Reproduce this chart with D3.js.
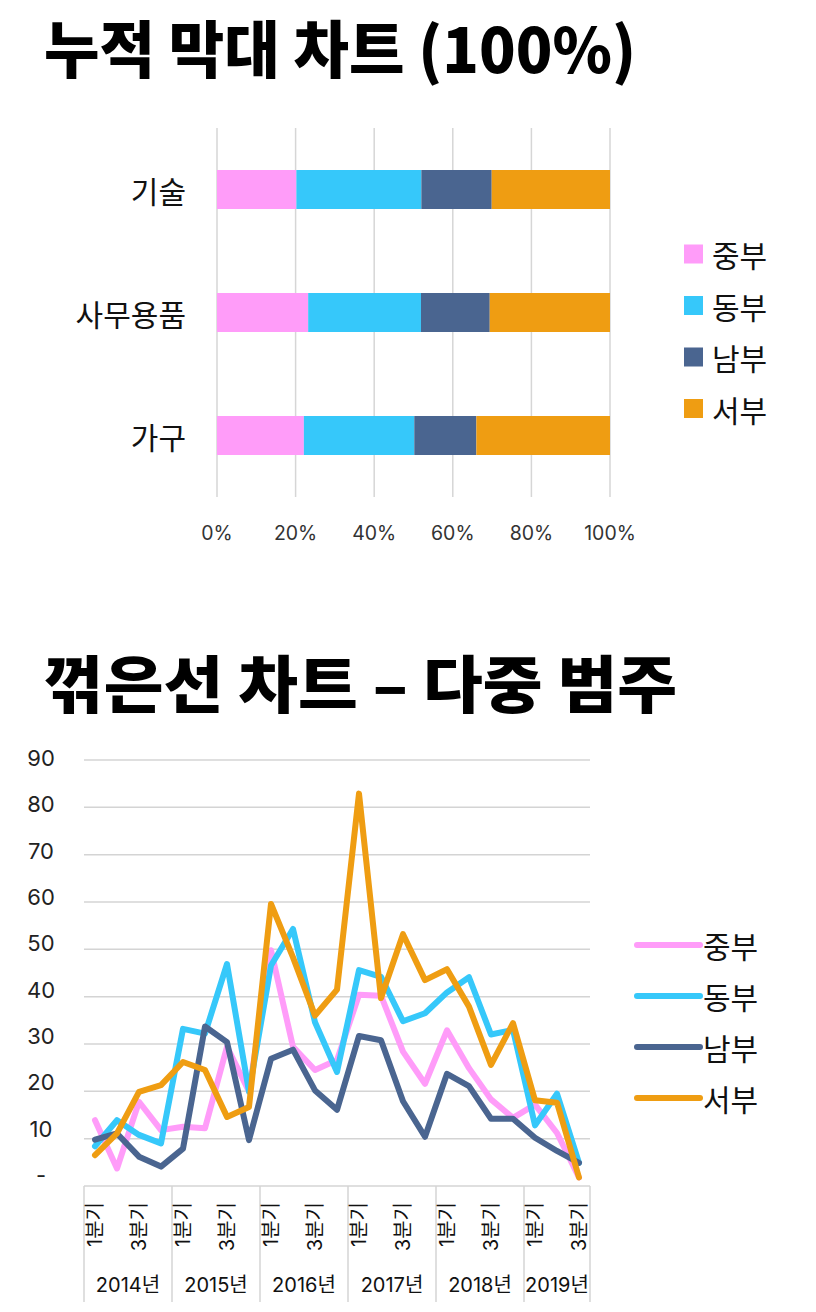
<!DOCTYPE html>
<html><head><meta charset="utf-8">
<script src="https://cdn.jsdelivr.net/npm/d3@7/dist/d3.min.js"></script>
<style>body{margin:0;background:#fff}svg{display:block}</style>
</head><body>
<svg id="c" width="816" height="1312"></svg>
<script>
// ---------- data ----------
const barCategories = ["기술", "사무용품", "가구"];
const regions = ["중부", "동부", "남부", "서부"];
const regionColors = ["#FF9CF9", "#36C8FA", "#4A6590", "#EF9D12"];
const shareCentral = [20.2, 23.2, 22.1];
const shareEast    = [31.8, 28.7, 28.1];
const shareSouth   = [17.9, 17.5, 15.8];
const shareWest    = [30.1, 30.6, 34.0];
const pctTicks = [0, 20, 40, 60, 80, 100];

const years = ["2014년", "2015년", "2016년", "2017년", "2018년", "2019년"];
const quartersPerYear = [4, 4, 4, 4, 4, 3];
const quarterNames = ["1분기", "2분기", "3분기", "4분기"];
const lineCentral = [13.9, 3.7, 17.8, 11.8, 12.5, 12.2, 29.4, 20.0, 49.8, 29.4, 24.5, 26.6, 40.4, 40.2, 28.4, 21.6, 32.9, 24.9, 18.3, 14.4, 17.2, 11.2, 1.8];
const lineEast    = [8.4, 13.9, 10.8, 9.0, 33.2, 32.2, 46.9, 19.9, 46.6, 54.3, 34.6, 24.1, 45.6, 44.2, 34.8, 36.5, 40.9, 44.1, 32.0, 33.0, 12.8, 19.5, 4.9];
const lineSouth   = [9.8, 11.1, 6.2, 4.1, 7.9, 33.7, 30.4, 9.7, 26.9, 28.8, 20.2, 16.1, 31.7, 30.8, 17.9, 10.4, 23.7, 21.1, 14.2, 14.2, 10.2, 7.4, 4.9];
const lineWest    = [6.5, 11.1, 19.9, 21.3, 26.2, 24.5, 14.6, 16.7, 59.6, 48.3, 36.0, 41.5, 82.9, 39.7, 53.2, 43.5, 45.8, 37.9, 25.6, 34.4, 18.1, 17.6, 1.8];
const yTicks = [0, 10, 20, 30, 40, 50, 60, 70, 80, 90];
const yTickLabels = ["-", "10", "20", "30", "40", "50", "60", "70", "80", "90"];

// ---------- setup ----------
const FONT = "'Noto Sans CJK KR', 'Noto Sans', sans-serif";
const NUMFONT = "Inter, 'Noto Sans CJK KR', sans-serif";
const svg = d3.select("#c").style("font-family", FONT);
const color = d3.scaleOrdinal().domain(regions).range(regionColors);

// ---------- titles ----------
svg.append("text").attr("x", 44).attr("y", 73)
  .attr("font-size", 62).attr("font-weight", 900).attr("fill", "#000")
  .attr("textLength", 592).attr("lengthAdjust", "spacingAndGlyphs")
  .text("누적 막대 차트 (100%)");
svg.append("text").attr("x", 44).attr("y", 708)
  .attr("font-size", 62).attr("font-weight", 900).attr("fill", "#000")
  .attr("textLength", 633).attr("lengthAdjust", "spacingAndGlyphs")
  .text("꺾은선 차트 – 다중 범주");

// ---------- stacked 100% bar chart ----------
const barTable = barCategories.map((c, i) => ({
  cat: c, "중부": shareCentral[i], "동부": shareEast[i], "남부": shareSouth[i], "서부": shareWest[i]
}));
const stacked = d3.stack().keys(regions)(barTable);
const bx = d3.scaleLinear().domain([0, 100]).range([217, 610]);
const by = d3.scaleBand().domain(barCategories).range([128, 497])
  .paddingInner(0.683).paddingOuter(0.3415);

const g1 = svg.append("g");
g1.selectAll("line.grid").data(pctTicks).join("line")
  .attr("x1", d => bx(d)).attr("x2", d => bx(d))
  .attr("y1", 128).attr("y2", 497)
  .attr("stroke", "#d6d6d6").attr("stroke-width", 1.5);
g1.selectAll("text.pct").data(pctTicks).join("text")
  .attr("x", d => bx(d)).attr("y", 533)
  .attr("text-anchor", "middle").attr("dominant-baseline", "central")
  .attr("font-family", NUMFONT)
  .attr("font-size", 19.5).attr("fill", "#333")
  .text(d => d + "%");
g1.selectAll("g.series").data(stacked).join("g")
  .attr("fill", d => color(d.key))
  .selectAll("rect").data(d => d).join("rect")
  .attr("x", d => bx(d[0])).attr("width", d => bx(d[1]) - bx(d[0]))
  .attr("y", d => by(d.data.cat)).attr("height", by.bandwidth());
g1.selectAll("text.cat").data(barCategories).join("text")
  .attr("x", 186).attr("y", d => by(d) + by.bandwidth() / 2)
  .attr("text-anchor", "end").attr("dominant-baseline", "central")
  .attr("font-size", 30).attr("fill", "#111")
  .text(d => d);
const leg1 = g1.selectAll("g.leg").data(regions).join("g")
  .attr("transform", (d, i) => `translate(684, ${254 + i * 51.5})`);
leg1.append("rect").attr("x", 0).attr("y", -9.5).attr("width", 19).attr("height", 19)
  .attr("fill", d => color(d));
leg1.append("text").attr("x", 28).attr("y", 0).attr("dominant-baseline", "central")
  .attr("font-size", 30).attr("fill", "#111").text(d => d);

// ---------- multi-category line chart ----------
const quarters = [];
years.forEach((y, yi) => {
  for (let q = 0; q < quartersPerYear[yi]; q++) quarters.push({ year: y, q: q, key: y + q });
});
const lx = d3.scaleBand().domain(quarters.map(d => d.key)).range([84, 590]);
const ly = d3.scaleLinear().domain([0, 90]).range([1186, 760]);
const g2 = svg.append("g");

g2.selectAll("line.ygrid").data(yTicks).join("line")
  .attr("x1", 84).attr("x2", 590)
  .attr("y1", d => ly(d)).attr("y2", d => ly(d))
  .attr("stroke", "#d4d4d4").attr("stroke-width", 1.5);
g2.selectAll("text.ylab").data(yTicks).join("text")
  .attr("x", 41).attr("y", d => ly(d) - 2 - (90 - d) / 90 * 9)
  .attr("text-anchor", "middle").attr("dominant-baseline", "central")
  .attr("font-family", NUMFONT)
  .attr("font-size", 22).attr("fill", "#222")
  .text((d, i) => yTickLabels[i]);

// year dividers
const starts = [0];
quartersPerYear.forEach(n => starts.push(starts[starts.length - 1] + n));
g2.selectAll("line.ydiv").data(starts).join("line")
  .attr("x1", d => 84 + lx.step() * d).attr("x2", d => 84 + lx.step() * d)
  .attr("y1", 1186).attr("y2", 1302)
  .attr("stroke", "#d4d4d4").attr("stroke-width", 1.5);
g2.selectAll("text.year").data(years).join("text")
  .attr("x", (d, i) => 84 + lx.step() * (starts[i] + starts[i + 1]) / 2)
  .attr("y", 1285).attr("text-anchor", "middle").attr("dominant-baseline", "central")
  .attr("font-family", NUMFONT)
  .attr("font-size", 20).attr("fill", "#111").text(d => d);
g2.selectAll("text.qlab").data(quarters.filter(d => d.q % 2 === 0)).join("text")
  .attr("transform", d => `translate(${lx(d.key) + lx.bandwidth() / 2}, 1202) rotate(-90)`)
  .attr("text-anchor", "end").attr("dominant-baseline", "central")
  .attr("font-family", NUMFONT)
  .attr("font-size", 20).attr("fill", "#111")
  .text(d => quarterNames[d.q]);

const lineSeries = [lineCentral, lineEast, lineSouth, lineWest];
const line = d3.line()
  .x((d, i) => lx(quarters[i].key) + lx.bandwidth() / 2)
  .y(d => ly(d));
g2.selectAll("path.series").data(lineSeries).join("path")
  .attr("d", d => line(d)).attr("fill", "none")
  .attr("stroke", (d, i) => regionColors[i]).attr("stroke-width", 6)
  .attr("stroke-linejoin", "round").attr("stroke-linecap", "round");

const leg2 = g2.selectAll("g.leg2").data(regions).join("g")
  .attr("transform", (d, i) => `translate(637, ${945 + i * 51})`);
leg2.append("line").attr("x1", 0).attr("x2", 63).attr("y1", 0).attr("y2", 0)
  .attr("stroke", d => color(d)).attr("stroke-width", 6).attr("stroke-linecap", "round");
leg2.append("text").attr("x", 66).attr("y", 0).attr("dominant-baseline", "central")
  .attr("font-size", 30).attr("fill", "#111").text(d => d);
</script>
</body></html>
